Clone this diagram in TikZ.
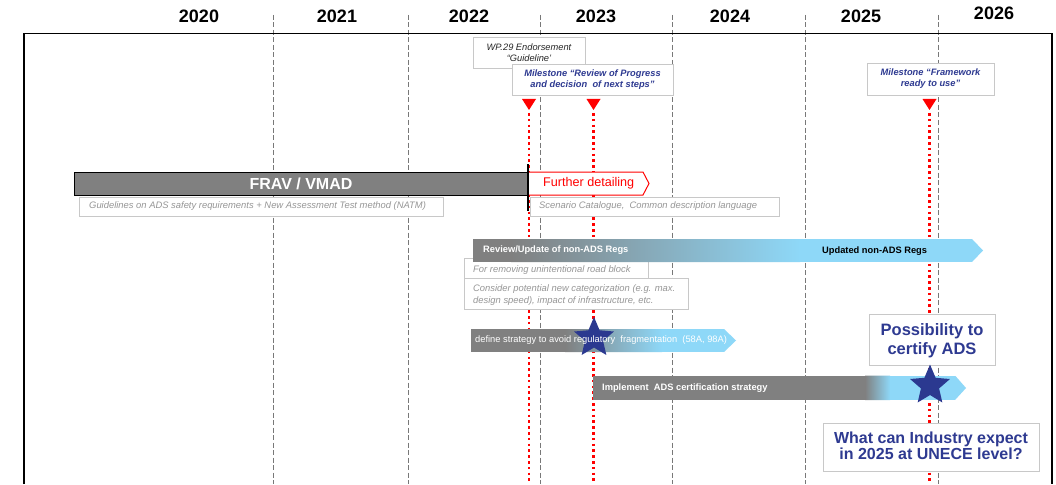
\documentclass[tikz,border=0pt]{standalone}
\usepackage{fontspec}
\setmainfont{Liberation Sans}
\usetikzlibrary{shapes.geometric}
\definecolor{barGray}{RGB}{128,128,128}
\definecolor{lightBlue}{RGB}{142,216,248}
\definecolor{darkBlue}{RGB}{46,58,145}
\definecolor{starBlue}{RGB}{43,57,144}
\definecolor{descGray}{RGB}{150,150,150}
\definecolor{boxLine}{RGB}{200,200,200}
\definecolor{gridGray}{RGB}{120,120,120}
\begin{document}
\begin{tikzpicture}[x=1pt,y=-1pt,
  yearlbl/.style={font=\fontsize{18}{20}\selectfont\bfseries, anchor=base, inner sep=0pt},
  gridline/.style={draw=gridGray, line width=0.8pt, dash pattern=on 5pt off 2.5pt},
  reddot/.style={draw=red, line width=2.6pt, dash pattern=on 2.6pt off 3.2pt},
  mtri/.style={fill=red},
  callout/.style={draw=boxLine, fill=white, line width=0.8pt, inner sep=0pt},
  mtext/.style={font=\fontsize{9.3}{11}\selectfont\bfseries\itshape, text=darkBlue, align=center},
  wptext/.style={font=\fontsize{9.3}{11}\selectfont\itshape, text=black!85, align=center},
  desc/.style={font=\fontsize{9.4}{12}\selectfont\itshape, text=descGray, inner sep=0pt, align=left, anchor=west},
  bartext/.style={font=\fontsize{9.3}{11}\selectfont\bfseries, text=white, inner sep=0pt, anchor=west},
  bigq/.style={font=\fontsize{16}{15.7}\selectfont\bfseries, text=darkBlue, align=center},
  starnode/.style={star, star points=5, star point ratio=2.2, fill=starBlue, minimum size=42pt, inner sep=0pt},
]
\useasboundingbox (0,0) rectangle (1056,484);
\fill[white] (0,0) rectangle (1056,484);

% grid lines
\foreach \x/\n in {273/a,408/b,540/c,672/d,805/e,938/f}{
  \coordinate (gt\n) at (\x,15);
  \coordinate (gb\n) at (\x,484);
  \draw[gridline] (gt\n) -- (gb\n);
}

% year labels
\node[yearlbl] (y2020) at (199,22.5) {2020};
\node[yearlbl] (y2021) at (337,22.5) {2021};
\node[yearlbl] (y2022) at (469,22.5) {2022};
\node[yearlbl] (y2023) at (596,22.5) {2023};
\node[yearlbl] (y2024) at (730,22.5) {2024};
\node[yearlbl] (y2025) at (861,22.5) {2025};
\node[yearlbl] (y2026) at (994,19.5) {2026};

% frame
\draw[line width=1.5pt] (24,484) -- (24,33.5) -- (1052,33.5) -- (1052,484);

% milestone markers
\foreach \x/\n in {529/a,593.5/b,929.5/c}{
  \fill[mtri] (\x-7,99) -- (\x+7,99) -- (\x,110) -- cycle;
  \coordinate (rt\n) at (\x,113);
  \coordinate (rb\n) at (\x,484);
  \draw[reddot] (rt\n) -- (rb\n);
}

% callouts
\node[callout, minimum width=112pt, minimum height=31pt] (wp) at (529,52.5) {};
\node[wptext, inner sep=0pt] (wptxt) at (529,52.5) {WP.29 Endorsement\\``Guideline'};
\node[callout, minimum width=161pt, minimum height=31pt] (ms1) at (592.5,79.5) {};
\node[mtext, inner sep=0pt] (ms1txt) at (592.5,79.5) {Milestone ``Review of Progress\\and decision\ \ of next steps''};
\node[callout, minimum width=127pt, minimum height=32pt] (ms2) at (930.5,79) {};
\node[mtext, inner sep=0pt] (ms2txt) at (930.5,79) {Milestone ``Framework\\ready to use''};

% FRAV / VMAD
\node[draw=black, line width=1pt, fill=barGray, minimum width=454pt, minimum height=23pt, inner sep=0pt,
      font=\fontsize{16}{18}\selectfont\bfseries, text=white] (frav) at (301,183.5) {FRAV / VMAD};
\node[callout, minimum width=364pt, minimum height=19pt, anchor=north west] (fravdesc) at (79,197) {};
\node[desc] (fravdesctxt) at (89,206.5) {Guidelines on ADS safety requirements + New Assessment Test method (NATM)};

% Further detailing
\draw[red, fill=white, line width=1pt] (528,172) -- (643,172) -- (649,183.5) -- (643,195) -- (528,195) -- cycle;
\node[font=\fontsize{12.6}{14}\selectfont, text=red, anchor=west, inner sep=0pt] (further) at (543,183.5) {Further detailing};
\node[callout, minimum width=249pt, minimum height=19pt, anchor=north west] (scendesc) at (530,197) {};
\node[desc] (scendesctxt) at (539,206.5) {Scenario Catalogue,\ \ Common description language};
\draw[line width=2.5pt] (528,164) -- (528,211);

% review description boxes
\draw[callout] (464,258) rectangle (648,278);
\node[desc] (rev1) at (473,270) {For removing unintentional road block};
\draw[callout] (464,278) rectangle (688,309);
\node[desc] (rev2) at (473,295.5) {Consider potential new categorization (e.g. max.\\design speed), impact of infrastructure, etc.};

% Review/Update bar
\begin{scope}
  \clip (473,239) -- (972,239) -- (983,250.5) -- (972,262) -- (473,262) -- cycle;
  \fill[barGray] (473,239) rectangle (512,262);
  \shade[left color=barGray, right color=lightBlue] (511,239) rectangle (800,262);
  \fill[lightBlue] (799.5,239) rectangle (985,262);
\end{scope}
\node[bartext] (revtxt) at (483,250.5) {Review/Update of non-ADS Regs};
\node[bartext, text=black] (updtxt) at (822,251.5) {Updated non-ADS Regs};

% define strategy bar
\begin{scope}
  \clip (471,329) -- (724,329) -- (736,340.5) -- (724,352) -- (471,352) -- cycle;
  \fill[barGray] (471,329) rectangle (566,352);
  \shade[left color=barGray, right color=lightBlue] (565,329) rectangle (662,352);
  \fill[lightBlue] (661.5,329) rectangle (740,352);
\end{scope}
\node[starnode] (star1) at (594,338) {};
\node[bartext, font=\fontsize{9.3}{11}\selectfont] (deftxt) at (475,340.5) {define strategy to avoid regulatory\ \ fragmentation\ \ (58A, 98A)};

% implement bar
\begin{scope}
  \clip (593,375.5) -- (955,375.5) -- (966,388) -- (955,400) -- (593,400) -- cycle;
  \fill[barGray] (593,375.5) rectangle (866,400);
  \shade[left color=barGray, right color=lightBlue] (865,375.5) rectangle (890,400);
  \fill[lightBlue] (889.5,375.5) rectangle (970,400);
\end{scope}
\node[bartext] (impltxt) at (602,388) {Implement\ \ ADS certification strategy};

% possibility box
\node[callout, minimum width=126pt, minimum height=51pt] (poss) at (932,339.5) {};
\node[bigq, font=\fontsize{16.5}{19.5}\selectfont\bfseries, inner sep=0pt] (posstxt) at (932,340.5) {Possibility to\\certify ADS};

% star on implement bar
\node[starnode] (star2) at (930,385.5) {};

% question box
\node[callout, minimum width=216pt, minimum height=48pt] (quest) at (931,447) {};
\node[bigq, inner sep=0pt] (questtxt) at (931,446) {What can Industry expect\\in 2025 at UNECE level?};
\end{tikzpicture}
\end{document}
